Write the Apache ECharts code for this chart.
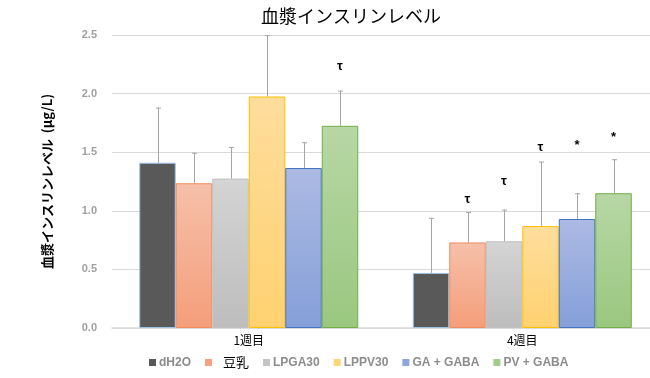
<!DOCTYPE html>
<html><head><meta charset="utf-8">
<script src="https://cdn.jsdelivr.net/npm/echarts@6/dist/echarts.min.js"></script>
<style>html,body{margin:0;padding:0;background:#fff}#c{width:650px;height:378px}</style>
</head><body><div id="c"></div>
<script>
const categories = ['1週目', '4週目'];
const seriesNames = ['dH2O', '豆乳', 'LPGA30', 'LPPV30', 'GA + GABA', 'PV + GABA'];
const dH2O   = [1.41, 0.47];
const soy    = [1.235, 0.73];
const lpga30 = [1.275, 0.74];
const lppv30 = [1.975, 0.87];
const gaGaba = [1.365, 0.93];
const pvGaba = [1.725, 1.15];
const errDH2O   = [0.47, 0.47];
const errSoy    = [0.26, 0.26];
const errLpga30 = [0.27, 0.27];
const errLppv30 = [0.53, 0.55];
const errGaGaba = [0.22, 0.22];
const errPvGaba = [0.30, 0.29];
// significance marks: [category, series, label, height]
const marks = [
  [0, 5, 'τ', 2.23],
  [1, 1, 'τ', 1.10],
  [1, 2, 'τ', 1.25],
  [1, 3, 'τ', 1.54],
  [1, 4, '*', 1.56],
  [1, 5, '*', 1.63]
];
const yTicks = ['0.0', '0.5', '1.0', '1.5', '2.0', '2.5'];

const values = [dH2O, soy, lpga30, lppv30, gaGaba, pvGaba];
const errs = [errDH2O, errSoy, errLpga30, errLppv30, errGaGaba, errPvGaba];
const styles = [
  {top: '#595959', bot: '#595959', border: '#9dc3e6', legend: '#595959'},
  {top: '#f6c0aa', bot: '#f49e7a', border: '#f08c5c', legend: '#f4a27f'},
  {top: '#d4d4d4', bot: '#bdbdbd', border: '#c0c0c0', legend: '#c4c4c4'},
  {top: '#fedd9c', bot: '#ffd170', border: '#ffc000', legend: '#ffd677'},
  {top: '#acbae3', bot: '#859fd8', border: '#4472c4', legend: '#8ea6dc'},
  {top: '#b7d7a5', bot: '#9ac780', border: '#70ad47', legend: '#a2cc8a'}
];
const BW = 36.5;

const chart = echarts.init(document.getElementById('c'), null, {renderer: 'canvas'});
const series = seriesNames.map((n, i) => ({
  name: n, type: 'bar', data: values[i].map((v, ci) => [ci, v]), barWidth: BW, barGap: '0%',
  itemStyle: {
    color: new echarts.graphic.LinearGradient(0, 0, 0, 1, [
      {offset: 0, color: styles[i].top}, {offset: 1, color: styles[i].bot}]),
    borderColor: styles[i].border, borderWidth: 1
  },
  emphasis: {disabled: true}
}));
const errData = [];
values.forEach((arr, si) => arr.forEach((v, ci) => errData.push([ci, v, errs[si][ci], si])));
series.push({
  type: 'custom', z: 5, silent: true,
  data: errData,
  encode: {x: 0, y: 1},
  renderItem: function (params, api) {
    const ci = api.value(0), v = api.value(1), e = api.value(2), si = api.value(3);
    const b = api.coord([ci, v]);
    const t = api.coord([ci, Math.min(v + e, 2.5)]);
    const x = Math.round(b[0] + (si - 2.5) * BW) + 0.5;
    const st = {stroke: '#a6a6a6', lineWidth: 1};
    return {type: 'group', children: [
      {type: 'line', shape: {x1: x, y1: b[1], x2: x, y2: t[1]}, style: st},
      {type: 'line', shape: {x1: x - 2.5, y1: t[1] + 0.5, x2: x + 2.5, y2: t[1] + 0.5}, style: st}
    ]};
  }
});
series.push({
  type: 'custom', z: 6, silent: true,
  data: marks.map(m => [m[0], m[3], m[1], m[2]]),
  encode: {x: 0, y: 1},
  renderItem: function (params, api) {
    const m = marks[params.dataIndex];
    const p = api.coord([m[0], m[3]]);
    const x = p[0] + (m[1] - 2.5) * BW;
    return {type: 'text', style: {x: x, y: p[1], text: m[2], textAlign: 'center', textVerticalAlign: 'middle',
      fill: '#000', font: 'bold 13px "Liberation Sans"'}};
  }
});

chart.setOption({
  animation: false,
  title: {text: '血漿インスリンレベル', left: 346, top: 2, textAlign: 'center',
    textStyle: {fontFamily: 'Noto Sans CJK JP', fontSize: 18, fontWeight: 'normal', color: '#000'}},
  grid: {left: 112, top: 35, right: 0, height: 293, containLabel: false},
  legend: {
    data: seriesNames.map((n, i) => ({name: n, itemStyle: {color: styles[i].legend, borderWidth: 0}})),
    left: 149, top: 356, padding: 0, icon: 'rect', itemWidth: 7, itemHeight: 7, itemGap: 14,
    textStyle: {color: '#8c8c8c', fontFamily: 'Liberation Sans', fontWeight: 'bold', fontSize: 12, padding: [0, 0, 0, -2],
      rich: {b: {color: '#000', fontFamily: 'Noto Sans CJK JP', fontWeight: 'normal', fontSize: 13, padding: [0, 0, 0, 8], width: 50}}},
    formatter: n => n === '豆乳' ? '{b|豆乳}' : n
  },
  xAxis: {
    type: 'value', min: -0.5, max: 1.467,
    splitLine: {show: false},
    axisLine: {onZero: false, lineStyle: {color: '#d9d9d9', width: 1.5}},
    axisTick: {show: false},
    axisLabel: {customValues: [0, 1], color: '#000', fontFamily: 'Noto Sans CJK JP', fontSize: 12, margin: 6,
      formatter: v => categories[Math.round(v)]}
  },
  yAxis: {
    type: 'value', min: 0, max: 2.5, interval: 0.5,
    name: '血漿インスリンレベル  (μg/L)', nameLocation: 'middle', nameGap: 58,
    nameTextStyle: {color: '#000', fontFamily: 'Noto Sans CJK JP', fontWeight: 'bold', fontSize: 13},
    axisLine: {show: false}, axisTick: {show: false},
    splitLine: {lineStyle: {color: '#d9d9d9', width: 1}},
    axisLabel: {color: '#a0a0a0', fontFamily: 'Liberation Sans', fontWeight: 'bold', fontSize: 11, margin: 15,
      formatter: v => yTicks[Math.round(v / 0.5)]}
  },
  series: series
});
</script></body></html>
